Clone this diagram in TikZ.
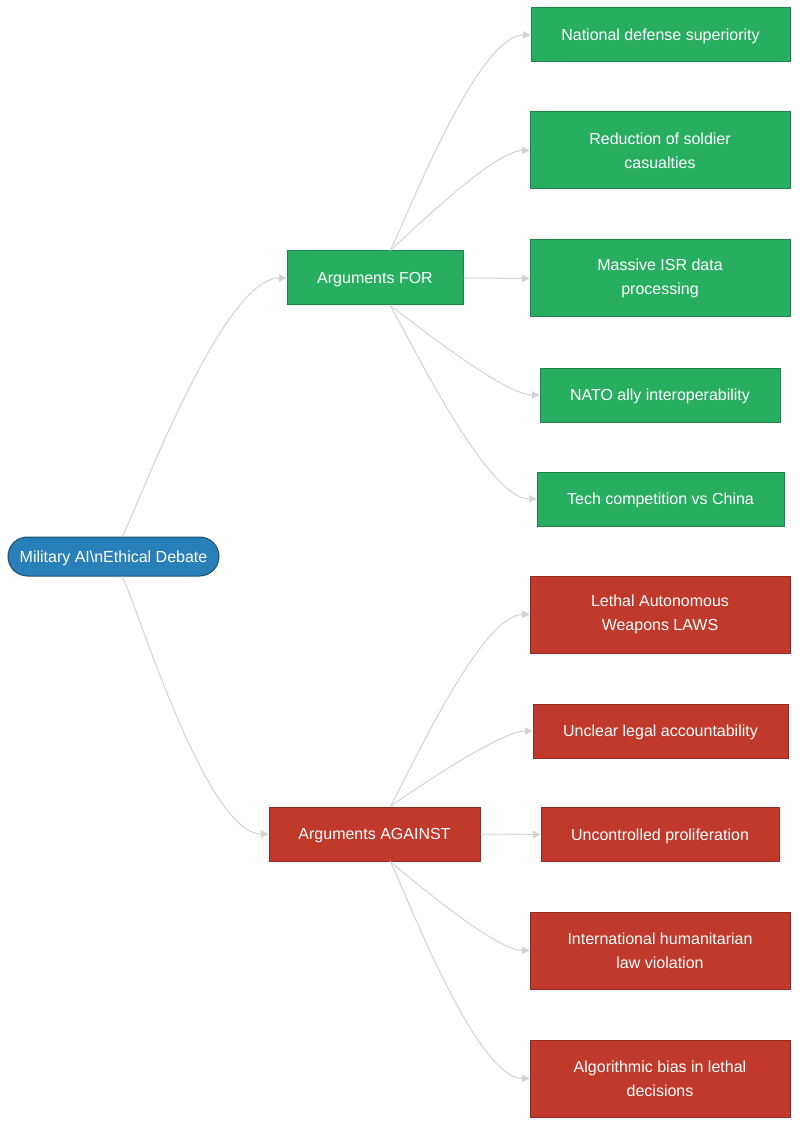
\documentclass[tikz,border=0pt]{standalone}
\usepackage{fontspec}
\setmainfont{Liberation Sans}
\usepackage{tikz}
\usetikzlibrary{arrows.meta, positioning, calc}
\definecolor{ForGreen}{HTML}{27AE60}
\definecolor{ForBorder}{HTML}{1E8449}
\definecolor{AgainstRed}{HTML}{C0392B}
\definecolor{AgainstBorder}{HTML}{922B21}
\definecolor{RootBlue}{HTML}{2980B9}
\definecolor{RootBorder}{HTML}{1A4F72}
\definecolor{EdgeGray}{HTML}{D3D3D3}

\tikzset{
  base/.style={text=white, font=\fontsize{12}{18}\selectfont, align=center,
               line width=0.75pt, inner sep=0pt},
  oneline/.style={text height=8.6pt, text depth=0pt},
  rootnode/.style={base, oneline, draw=RootBorder, fill=RootBlue, rounded corners=14.6pt,
                   minimum width=158.25pt, minimum height=29.25pt},
  fornode/.style={base, draw=ForBorder, fill=ForGreen, minimum height=40.5pt},
  againstnode/.style={base, draw=AgainstBorder, fill=AgainstRed, minimum height=40.5pt},
  tall/.style={minimum height=57.75pt},
  link/.style={draw=EdgeGray, line width=0.75pt, -{Triangle[length=5.5pt, width=5.5pt]}},
  curvy/.style={out looseness=0.2, in looseness=0.55}
}

\begin{document}
\begin{tikzpicture}[x=0.75pt, y=0.75pt]
  \useasboundingbox (0,0) rectangle (799,-1126);

  % root
  \node[rootnode] (root) at (113.5,-556.5) {Military AI\textbackslash{}nEthical Debate};

  % branches
  \node[fornode, oneline, minimum width=132pt] (argfor) at (375,-278) {Arguments FOR};
  \node[againstnode, oneline, minimum width=158.25pt] (argagainst) at (374.5,-834) {Arguments AGAINST};

  % arguments for
  \node[fornode, oneline, minimum width=194.25pt] (natdef) at (660.5,-35) {National defense superiority};
  \node[fornode, tall, minimum width=195pt] (casualties) at (660,-150.5) {Reduction of soldier\\casualties};
  \node[fornode, tall, minimum width=195pt] (isr) at (660,-278.5) {Massive ISR data\\processing};
  \node[fornode, oneline, minimum width=180pt] (nato) at (660,-395) {NATO ally interoperability};
  \node[fornode, oneline, minimum width=185.25pt] (china) at (660.5,-499) {Tech competition vs China};

  % arguments against
  \node[againstnode, tall, minimum width=195pt] (laws) at (660,-614.5) {Lethal Autonomous\\Weapons LAWS};
  \node[againstnode, oneline, minimum width=191.25pt] (legal) at (660.5,-731) {Unclear legal accountability};
  \node[againstnode, oneline, minimum width=178.5pt] (prolif) at (660,-834.5) {Uncontrolled proliferation};
  \node[againstnode, tall, minimum width=195pt] (ihl) at (660,-950.5) {International humanitarian\\law violation};
  \node[againstnode, tall, minimum width=195pt] (bias) at (660,-1078.5) {Algorithmic bias in lethal\\decisions};

  % links
  \draw[link] ([xshift=6.4pt]root.north) to[out=58, in=180, curvy] (argfor.west);
  \draw[link] ([xshift=6.4pt]root.south) to[out=-58, in=180, curvy] (argagainst.west);

  \draw[link] ([xshift=11.25pt]argfor.north) to[out=58, in=180, curvy] (natdef.west);
  \draw[link] ([xshift=11.25pt]argfor.north) to[out=38, in=180, curvy] (casualties.west);
  \draw[link] (argfor.east) -- (isr.west);
  \draw[link] ([xshift=11.25pt]argfor.south) to[out=-33, in=180, curvy] (nato.west);
  \draw[link] ([xshift=11.25pt]argfor.south) to[out=-54, in=180, curvy] (china.west);

  \draw[link] ([xshift=11.6pt]argagainst.north) to[out=54, in=180, curvy] (laws.west);
  \draw[link] ([xshift=11.6pt]argagainst.north) to[out=33, in=180, curvy] (legal.west);
  \draw[link] (argagainst.east) -- (prolif.west);
  \draw[link] ([xshift=11.6pt]argagainst.south) to[out=-38, in=180, curvy] (ihl.west);
  \draw[link] ([xshift=11.6pt]argagainst.south) to[out=-58, in=180, curvy] (bias.west);
\end{tikzpicture}
\end{document}
